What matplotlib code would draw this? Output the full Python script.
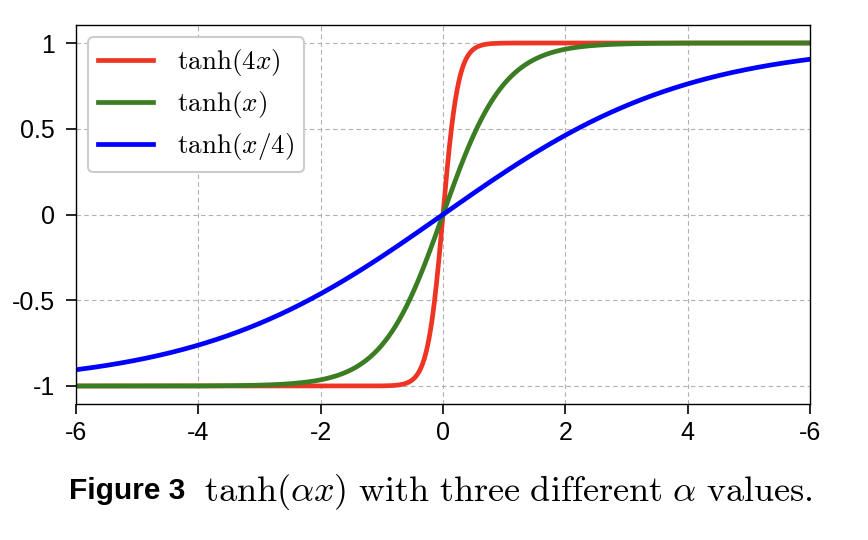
import numpy as np
import matplotlib
matplotlib.use("Agg")
import matplotlib.pyplot as plt

# data
alphas = [4.0, 1.0, 0.25]
labels = [r"$\tanh(4x)$", r"$\tanh(x)$", r"$\tanh(x/4)$"]
colors = ["#ee3524", "#3a7d22", "#0000ff"]
x_ticks = [-6, -4, -2, 0, 2, 4, 6]
x_tick_labels = ["-6", "-4", "-2", "0", "2", "4", "-6"]
y_ticks = [-1, -0.5, 0, 0.5, 1]
y_tick_labels = ["-1", "-0.5", "0", "0.5", "1"]
caption_bold = "Figure 3"
caption_rest = r"$\tanh(\alpha x)\ \mathrm{with\ three\ different}\ \alpha\ \mathrm{values.}$"

plt.rcParams["mathtext.fontset"] = "cm"
plt.rcParams["font.family"] = ["Liberation Sans", "DejaVu Sans"]

fig = plt.figure(figsize=(8.68, 5.4), dpi=100)
ax = fig.add_axes([76 / 868, 1 - 404 / 540, (810 - 76) / 868, (404 - 25) / 540])

x = np.linspace(-6, 6, 1201)
for a, lab, c in zip(alphas, labels, colors):
    ax.plot(x, np.tanh(a * x), color=c, lw=3.4, label=lab)

ax.set_xlim(-6, 6)
ax.set_ylim(-1.105, 1.105)
ax.set_xticks(x_ticks)
ax.set_xticklabels(x_tick_labels)
ax.set_yticks(y_ticks)
ax.set_yticklabels(y_tick_labels)
ax.tick_params(direction="out", length=7, width=1.2, labelsize=18)
ax.tick_params(axis="x", pad=5)
ax.tick_params(axis="y", pad=8)
ax.grid(True, linestyle=(0, (4, 3)), color="#b0b0b0", linewidth=0.8)
ax.set_axisbelow(True)
for s in ax.spines.values():
    s.set_linewidth(1.0)

leg = ax.legend(loc="upper left", fontsize=19.5, frameon=True, fancybox=True,
                edgecolor="#cccccc", framealpha=1.0, handlelength=2.0,
                borderaxespad=0.45, labelspacing=0.4, handletextpad=0.9,
                borderpad=0.38)
leg.get_frame().set_linewidth(1.5)

fig.text(0.080, 0.090, caption_bold, fontsize=21.5, fontweight="bold",
         va="center", ha="left")
fig.text(0.235, 0.088, caption_rest, fontsize=26, va="center", ha="left")

fig.savefig("out.png", dpi=100)
